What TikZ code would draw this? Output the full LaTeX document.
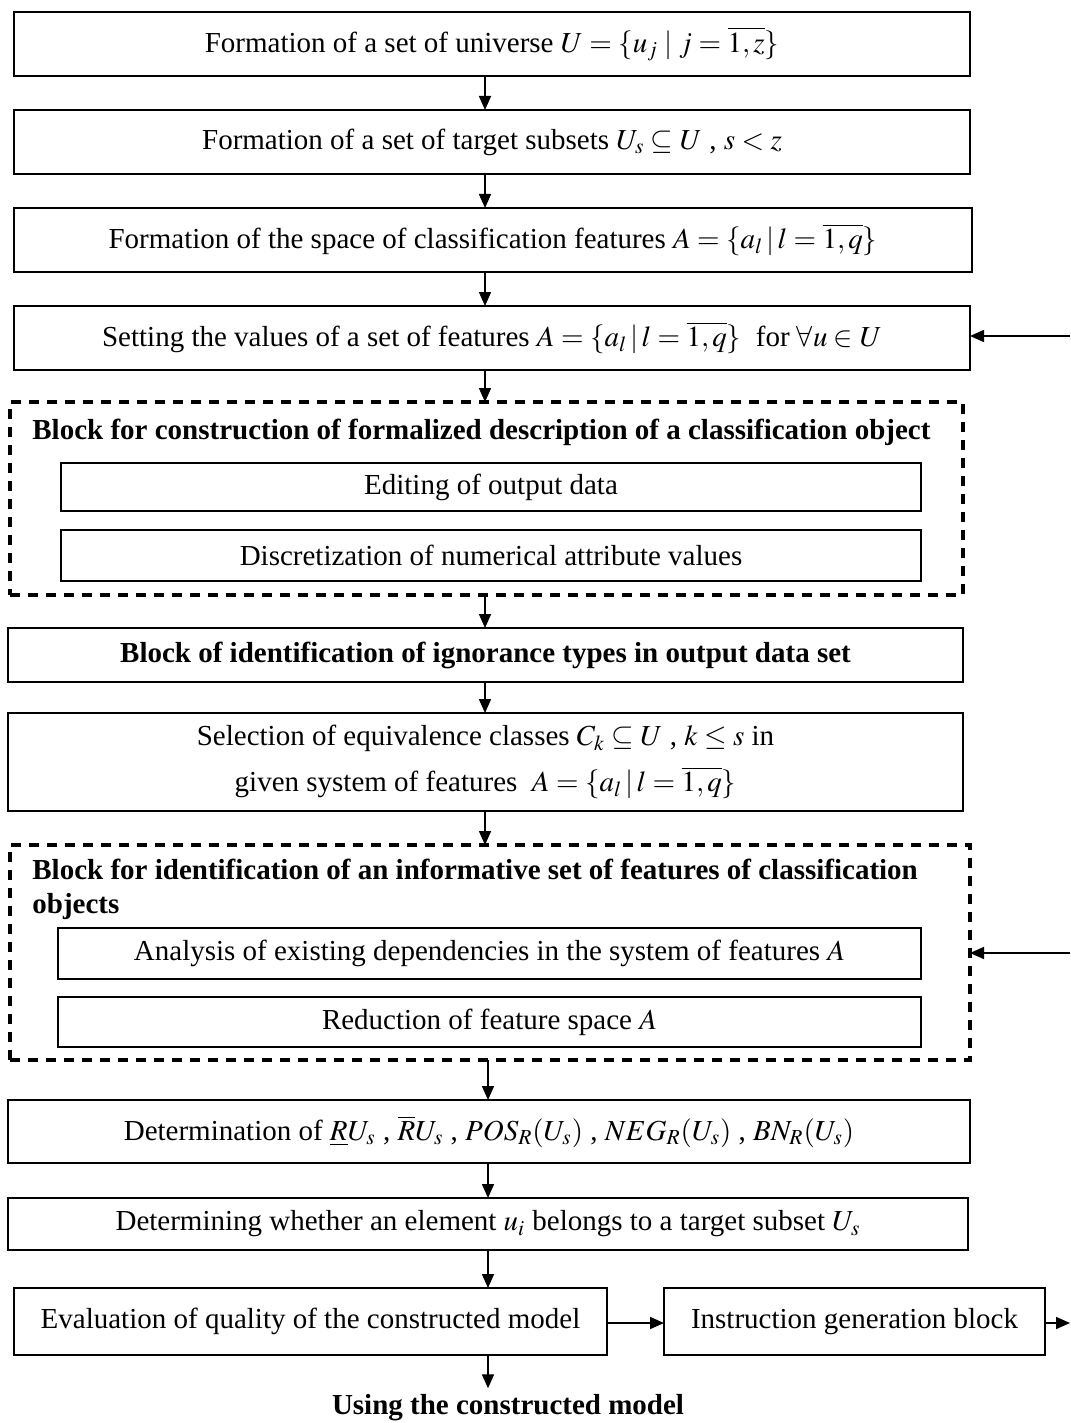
\documentclass[tikz,border=0pt]{standalone}
\usepackage{mathptmx}
\usepackage[no-math]{fontspec}
\setmainfont{Liberation Serif}
\usetikzlibrary{arrows.meta}
\tikzset{
    box/.style={draw,line width=1pt,inner sep=0pt,outer sep=0pt,align=center},
    dbox/.style={draw,line width=1.6pt,dash pattern=on 5pt off 4pt,inner sep=0pt,outer sep=0pt},
    title/.style={font=\fontsize{14.5}{17}\selectfont\bfseries,inner sep=0pt,align=left},
    arr/.style={line width=0.8pt,-{Triangle[length=7pt,width=6pt]}}
}
\begin{document}
\begin{tikzpicture}[x=0.5pt,y=-0.5pt,font=\fontsize{14.5}{17}\selectfont]
    \useasboundingbox (0,0) rectangle (1070,1423);
    \coordinate (c1) at (485,0);
    \coordinate (c2) at (488,0);
    \node[box,minimum width=478pt,minimum height=32pt] (univ) at (492,44)
        {Formation of a set of universe $U=\{u_j \mid j=\overline{1,z}\}$};
    \node[box,minimum width=478pt,minimum height=32pt] (target) at (492,142)
        {Formation of a set of target subsets $U_s \subseteq U$ , $s<z$};
    \node[box,minimum width=479pt,minimum height=32pt] (space) at (493,240)
        {Formation of the space of classification features $A=\{a_l\,|\,l=\overline{1,q}\}$};
    \node[box,minimum width=478pt,minimum height=32pt] (values) at (492,338)
        {Setting the values of a set of features $A=\{a_l\,|\,l=\overline{1,q}\}$ \ for $\forall u\in U$};
    \node[dbox,minimum width=476.5pt,minimum height=96.5pt] (formal) at (486.5,498.5) {};
    \node[title,anchor=west] (formalt) at (32,432)
        {Block for construction of formalized description of a classification object};
    \node[box,minimum width=430pt,minimum height=24pt] (edit) at (491,487) {Editing of output data};
    \node[box,minimum width=430pt,minimum height=25.5pt] (discr) at (491,555.5) {Discretization of numerical attribute values};
    \node[box,minimum width=477.5pt,minimum height=27pt,font=\fontsize{14.5}{17}\selectfont\bfseries] (ignor) at (485.5,655)
        {Block of identification of ignorance types in output data set};
    \node[box,minimum width=477.5pt,minimum height=49pt] (equiv) at (485.5,762)
        {Selection of equivalence classes $C_k \subseteq U$ , $k\le s$ in\\[6pt]
         given system of features \ $A=\{a_l\,|\,l=\overline{1,q}\}$};
    \node[dbox,minimum width=480pt,minimum height=107.5pt] (inform) at (490,952.5) {};
    \node[title,anchor=west] (informt) at (32,889)
        {Block for identification of an informative set of features of classification\\ objects};
    \node[box,minimum width=431.5pt,minimum height=25.5pt] (analys) at (489.5,953.5)
        {Analysis of existing dependencies in the system of features $A$};
    \node[box,minimum width=431.5pt,minimum height=25pt] (reduc) at (489.5,1022)
        {Reduction of feature space $A$};
    \node[box,minimum width=481pt,minimum height=31.5pt] (determ) at (489,1131.5)
        {Determination of $\underline{R}U_s$ , $\overline{R}U_s$ , $POS_R(U_s)$ , $NEG_R(U_s)$ , $BN_R(U_s)$};
    \node[box,minimum width=480pt,minimum height=26pt] (belong) at (488,1224)
        {Determining whether an element $u_i$ belongs to a target subset $U_s$};
    \node[box,minimum width=296.5pt,minimum height=33.5pt] (quality) at (310.5,1321.5)
        {Evaluation of quality of the constructed model};
    \node[box,minimum width=190.5pt,minimum height=33.5pt] (instr) at (854.5,1321.5)
        {Instruction generation block};
    \node[font=\fontsize{14.5}{17}\selectfont\bfseries,inner sep=0pt] (using) at (508,1408) {Using the constructed model};
    \coordinate (in1) at (1070,336);
    \coordinate (in2) at (1070,953);
    \coordinate (out) at (1070,1323);
    \draw[arr] (univ.south -| c1) -- (target.north -| c1);
    \draw[arr] (target.south -| c1) -- (space.north -| c1);
    \draw[arr] (space.south -| c1) -- (values.north -| c1);
    \draw[arr] (values.south -| c1) -- (formal.north -| c1);
    \draw[arr] (formal.south -| c1) -- (ignor.north -| c1);
    \draw[arr] (ignor.south -| c1) -- (equiv.north -| c1);
    \draw[arr] (equiv.south -| c1) -- (inform.north -| c1);
    \draw[arr] (inform.south -| c2) -- (determ.north -| c2);
    \draw[arr] (determ.south -| c2) -- (belong.north -| c2);
    \draw[arr] (belong.south -| c2) -- (quality.north -| c2);
    \draw[arr] (quality.south -| c2) -- ([yshift=3pt]using.north -| c2);
    \draw[arr] (in1) -- (values.east |- in1);
    \draw[arr] (in2) -- (inform.east |- in2);
    \draw[arr] (quality.east |- out) -- (instr.west |- out);
    \draw[arr] (instr.east |- out) -- (out);
\end{tikzpicture}
\end{document}
